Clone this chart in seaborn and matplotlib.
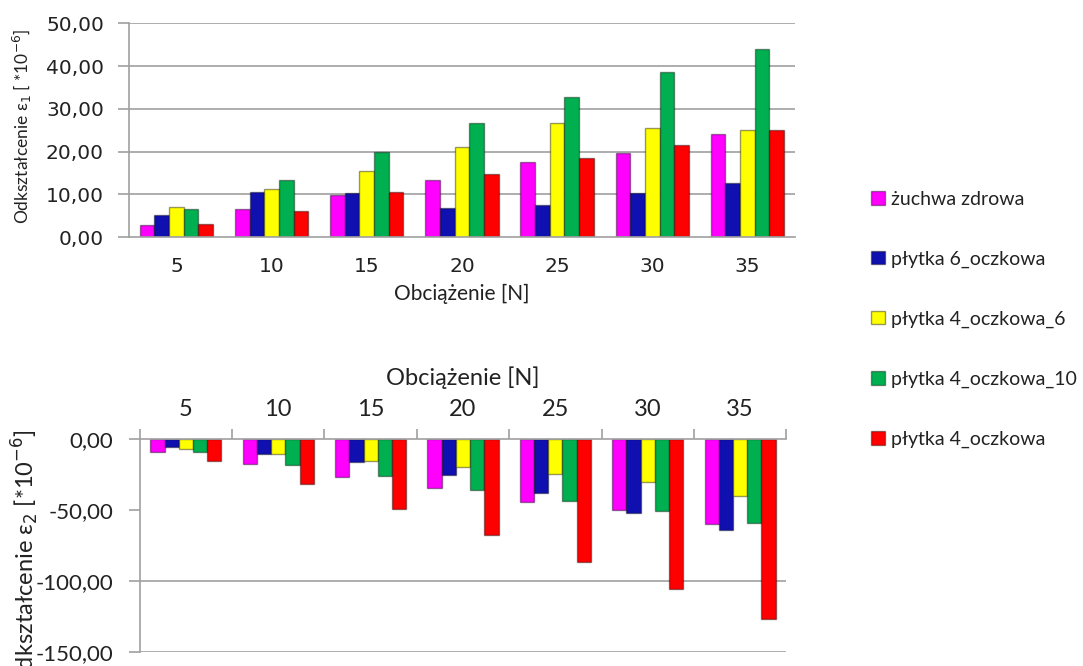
import numpy as np
import pandas as pd
import matplotlib
matplotlib.use("Agg")
import matplotlib.pyplot as plt
import seaborn as sns
from matplotlib.patches import Patch
from matplotlib.ticker import FixedLocator, FuncFormatter

# Load steps [N]
loads = ["5", "10", "15", "20", "25", "30", "35"]

series = [
    "żuchwa zdrowa",
    "płytka 6_oczkowa",
    "płytka 4_oczkowa_6",
    "płytka 4_oczkowa_10",
    "płytka 4_oczkowa",
]
colors = ["#FF00FF", "#1010B0", "#FFFF00", "#00B050", "#FF0000"]

# Strain eps1 [*10^-6]
eps1_zdrowa = [2.9, 6.55, 9.8, 13.4, 17.55, 19.65, 24.0]
eps1_p6 = [5.2, 10.45, 10.2, 6.8, 7.4, 10.2, 12.7]
eps1_p4_6 = [7.0, 11.2, 15.4, 21.1, 26.6, 25.4, 25.0]
eps1_p4_10 = [6.55, 13.3, 20.0, 26.7, 32.8, 38.5, 43.9]
eps1_p4 = [3.1, 6.2, 10.45, 14.7, 18.4, 21.45, 25.0]

# Strain eps2 [*10^-6]
eps2_zdrowa = [-9.2, -17.5, -26.4, -34.4, -44.1, -50.2, -60.1]
eps2_p6 = [-5.7, -10.4, -16.0, -25.0, -38.0, -51.9, -64.2]
eps2_p4_6 = [-6.6, -10.4, -15.6, -19.8, -24.8, -30.2, -40.1]
eps2_p4_10 = [-9.2, -17.9, -25.9, -35.6, -43.4, -50.7, -59.0]
eps2_p4 = [-15.6, -31.4, -49.5, -67.5, -87.0, -105.9, -126.7]

eps1 = [eps1_zdrowa, eps1_p6, eps1_p4_6, eps1_p4_10, eps1_p4]
eps2 = [eps2_zdrowa, eps2_p6, eps2_p4_6, eps2_p4_10, eps2_p4]

rows = []
for s, v1, v2 in zip(series, eps1, eps2):
    for ld, a, b in zip(loads, v1, v2):
        rows.append({"load": ld, "series": s, "eps1": a, "eps2": b})
df = pd.DataFrame(rows)

sns.set_theme(style="white")
plt.rcParams["font.family"] = ["Lato", "DejaVu Sans"]

fig = plt.figure(figsize=(10.83, 6.66), dpi=100)
ax1 = fig.add_axes([0.119, 0.644, 0.615, 0.321])
ax2 = fig.add_axes([0.129, 0.0215, 0.597, 0.319])

grid_c = "#A0A0A0"
txt_c = "#222222"
pal = dict(zip(series, colors))


def comma_fmt(v, pos):
    return f"{v:.2f}".replace(".", ",")


def draw(ax, col):
    sns.barplot(data=df, x="load", y=col, hue="series", order=loads,
                hue_order=series, palette=pal, width=0.77, gap=0,
                saturation=1, edgecolor="#00000066", linewidth=1.0,
                legend=False, ax=ax, errorbar=None)
    ax.set_xlim(-0.5, len(loads) - 0.5)
    for sp in ["top", "right"]:
        ax.spines[sp].set_visible(False)
    for sp in ["left", "bottom"]:
        ax.spines[sp].set_color(grid_c)
        ax.spines[sp].set_linewidth(1.2)
    # group separators as minor ticks
    ax.xaxis.set_minor_locator(FixedLocator(np.arange(-0.5, len(loads), 1.0)))
    ax.tick_params(axis="x", which="major", length=0)
    ax.tick_params(axis="x", which="minor", length=7, width=1.2, color=grid_c)
    ax.tick_params(axis="y", length=8, width=1.2, color=grid_c, left=True)
    ax.yaxis.set_major_formatter(FuncFormatter(comma_fmt))


# Upper panel: eps1
draw(ax1, "eps1")
ax1.set_ylim(0, 50)
ax1.set_yticks([0, 10, 20, 30, 40, 50])
for y in [10, 20, 30, 40, 50]:
    ax1.axhline(y, color=grid_c, lw=1.2, zorder=0)
for t in ax1.get_yticklabels() + ax1.get_xticklabels():
    t.set_fontfamily("DejaVu Sans")
    t.set_fontsize(14.5)
    t.set_color(txt_c)
ax1.tick_params(axis="y", pad=10)
ax1.tick_params(axis="x", which="major", pad=14)
ax1.set_xlabel("Obciążenie [N]", fontsize=15, color=txt_c, labelpad=6)
ax1.set_ylabel("Odkształcenie ε$_1$ [ *10$^{-6}$]", fontsize=12.5, color=txt_c)
ax1.yaxis.set_label_coords(-0.142, 0.52)

# Lower panel: eps2 with the category axis on top
draw(ax2, "eps2")
ax2.set_ylim(-150, 0)
ax2.set_yticks([0, -50, -100, -150])
for y in [-100, -150]:
    ax2.axhline(y, color=grid_c, lw=1.2, zorder=0)
ax2.spines["bottom"].set_visible(False)
ax2.spines["top"].set_visible(True)
ax2.spines["top"].set_color(grid_c)
ax2.spines["top"].set_linewidth(1.2)
ax2.xaxis.tick_top()
ax2.xaxis.set_label_position("top")
ax2.tick_params(axis="x", which="both", top=True, bottom=False)
ax2.tick_params(axis="x", which="major", pad=14)
ax2.tick_params(axis="y", pad=11)
for t in ax2.get_yticklabels():
    t.set_fontsize(16)
    t.set_color(txt_c)
for t in ax2.get_xticklabels():
    t.set_fontsize(17)
    t.set_color(txt_c)
ax2.set_xlabel("Obciążenie [N]", fontsize=17, color=txt_c, labelpad=10)
ax2.set_ylabel("Odkształcenie ε$_2$ [*10$^{-6}$]", fontsize=17, color=txt_c)
ax2.yaxis.set_label_coords(-0.152, 0.44)

handles = [Patch(facecolor=c, edgecolor="#00000066") for c in colors]
fig.legend(handles, series, loc="upper left", bbox_to_anchor=(0.788, 0.74),
           frameon=False, fontsize=14, labelspacing=2.2, handlelength=0.7,
           handleheight=0.7, handletextpad=0.35, labelcolor=txt_c)

fig.savefig("out.png", dpi=100)
